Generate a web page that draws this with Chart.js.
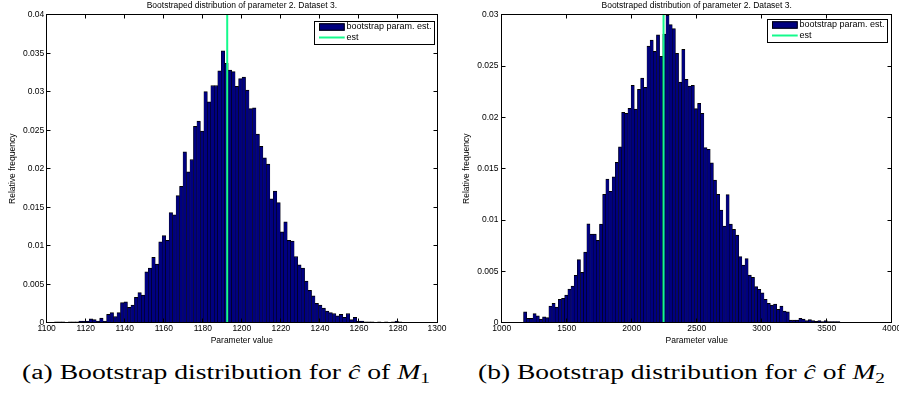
<!DOCTYPE html>
<html><head><meta charset="utf-8">
<script src="https://cdn.jsdelivr.net/npm/chart.js@4.4.1/dist/chart.umd.min.js"></script>
<style>
html,body{margin:0;padding:0;background:#fff;overflow:hidden;width:899px;height:399px;}
#wrap{position:relative;width:899px;height:399px;overflow:hidden;background:#fff;}
canvas{position:absolute;top:0;}
#cA{left:0;} #cB{left:450px;}
.cap{position:absolute;font-family:"Liberation Serif","DejaVu Serif",serif;font-size:20px;line-height:1;white-space:nowrap;color:#000;transform-origin:0 0;top:362px;}
.cap sub{font-size:14px;line-height:0;vertical-align:-4px;}
</style></head><body><div id="wrap">
<canvas id="cA" width="450" height="346"></canvas>
<canvas id="cB" width="460" height="346"></canvas>
<div class="cap" id="capA">(a)&nbsp;Bootstrap distribution for <i>ĉ</i> of <i>M</i><sub>1</sub></div>
<div class="cap" id="capB">(b)&nbsp;Bootstrap distribution for <i>ĉ</i> of <i>M</i><sub>2</sub></div>
</div>
<script>
// ---------- shared text ----------
const titleText = 'Bootstraped distribution of parameter 2. Dataset 3.';
const xTitle = 'Parameter value';
const yTitle = 'Relative frequency';
const legendLabels = ['bootstrap param. est.', 'est'];

// ---------- chart (a) ----------
const binStartA = 1104;
const binWidthA = 1.78;
const freqA = [0.0001,0.0001,0.0001,0,0.0001,0.0001,0.0001,
 0.0002,0.0002,0.0002,0.0005,0.0004,0.0002,0.0006,0.0002,0.0011,0.0013,0.0008,0.0013,
 0.0026,0.0027,0.0020,0.0023,0.0033,0.0039,0.0036,0.0066,0.0071,0.0085,0.0076,
 0.0105,0.0113,0.0107,0.0143,0.0140,0.0165,
 0.0177,0.0222,0.0196,0.0212,0.0255,0.0262,0.0249,0.0300,0.0287,0.0308,0.0308,
 0.0327,0.0353,0.0337,0.0328,0.0326,0.0307,0.0317,0.0319,0.0302,0.0278,0.0279,
 0.0245,0.0229,0.0214,0.0206,0.0161,0.0171,0.0156,
 0.0118,0.0131,0.0107,0.0106,0.0086,0.0075,0.0071,0.0054,0.0042,0.0035,
 0.0025,0.0023,0.0019,0.0015,0.0013,0.0012,0.0009,0.0011,0.0007,0.0012,0.0004,0.0007,
 0.0002,0.0002,0.0001,
 0.0001,0.0001,0,0.0001,0,0.0001,0,0.0001,0.0002,0.0001];
const estA = 1192.5;
const xTicksA = [1100,1120,1140,1160,1180,1200,1220,1240,1260,1280,1300];
const xTickLabelsA = ['1100','1120','1140','1160','1180','1200','1220','1240','1260','1280','1300'];
const yTicksA = [0,0.005,0.01,0.015,0.02,0.025,0.03,0.035,0.04];
const yTickLabelsA = ['0','0.005','0.01','0.015','0.02','0.025','0.03','0.035','0.04'];

// ---------- chart (b) ----------
const binStartB = 1168;
const binWidthB = 24.34;
const freqB = [0.00107,0.00043,0.00043,0.00088,0.00068,0.00036,0.00058,0.0005,
 0.00163,0.00189,0.00153,0.00228,0.00237,0.0027,0.00328,0.00357,
 0.00461,0.00614,0.0049,0.00689,0.00964,0.00864,0.00864,0.00802,0.0096,
 0.0125,0.014,0.0128,0.01422,0.01562,0.01714,0.0205,0.0204,
 0.02088,0.02312,0.0208,0.02273,0.02383,0.02293,
 0.02695,0.02753,0.02643,0.02805,0.02594,0.02812,
 0.02997,0.02903,0.02864,0.02624,0.02344,0.02663,
 0.02371,0.02305,0.02312,0.02085,0.02137,0.0204,
 0.01705,0.01689,0.01558,0.0139,0.0125,0.01098,
 0.00942,0.01247,0.0096,0.0091,
 0.00854,0.00643,0.00562,0.00624,0.00465,0.00442,0.00351,0.00325,
 0.00292,0.00228,0.00189,0.00172,0.00182,0.0013,0.00163,0.00114,0.00107,
 0.00026,0.00026,0.00026,0.00043,0.00036,0.0002,0.0003,0.0002,0.00013,0.0002,
 0.0001,0.0002,0.0001,0.0001,0.0001,0.0001];
const estB = 2245;
const xTicksB = [1000,1500,2000,2500,3000,3500,4000];
const xTickLabelsB = ['1000','1500','2000','2500','3000','3500','4000'];
const yTicksB = [0,0.005,0.01,0.015,0.02,0.025,0.03];
const yTickLabelsB = ['0','0.005','0.01','0.015','0.02','0.025','0.03'];

// ---------- styling ----------
const FONT = '"Liberation Sans", Arial, Helvetica, sans-serif';
const NAVY = '#000080';
const GREEN = 'rgb(20,250,140)';
const fnt = {family: FONT, size: 8.5, weight: 'normal'};

const framePlugin = {
  id: 'frame',
  afterDraw(chart, args, o) {
    const {ctx, chartArea: ca, scales: {x, y}} = chart;
    const L = Math.floor(ca.left) + 0.5, R = Math.floor(ca.right) + 0.5;
    const T = Math.floor(ca.top) + 0.5, B = Math.floor(ca.bottom) + 0.5;
    ctx.save();
    ctx.strokeStyle = '#000'; ctx.lineWidth = 1;
    ctx.strokeRect(L, T, R - L, B - T);
    ctx.beginPath();
    const tl = 4;
    x.ticks.forEach(t => {
      const px = Math.floor(x.getPixelForValue(t.value)) + 0.5;
      ctx.moveTo(px, B); ctx.lineTo(px, B - tl);
      ctx.moveTo(px, T); ctx.lineTo(px, T + tl);
    });
    y.ticks.forEach(t => {
      const py = Math.floor(y.getPixelForValue(t.value)) + 0.5;
      ctx.moveTo(L, py); ctx.lineTo(L + tl, py);
      ctx.moveTo(R, py); ctx.lineTo(R - tl, py);
    });
    ctx.stroke();
    ctx.restore();
  }
};

const legendPlugin = {
  id: 'boxLegend',
  afterDraw(chart, args, o) {
    const {ctx, chartArea: ca} = chart;
    const ds = chart.data.datasets;
    ctx.save();
    ctx.font = o.size + 'px ' + FONT;
    const tw = Math.max(...ds.map(d => ctx.measureText(d.label).width));
    const padL = 5, patchW = 25.7, gap = 1.8, padR = 2.5;
    const w = Math.round(padL + patchW + gap + tw + padR), h = 23;
    const bx = Math.round(ca.right - o.offRight - w), by = Math.round(ca.top + o.offTop);
    ctx.fillStyle = '#fff'; ctx.fillRect(bx, by, w, h);
    ctx.strokeStyle = '#000'; ctx.lineWidth = 1;
    ctx.strokeRect(bx + 0.5, by + 0.5, w, h);
    const r1 = by + 6, r2 = by + 16.5;
    ctx.fillStyle = ds[0].backgroundColor;
    ctx.fillRect(bx + padL, r1 - 3.7, patchW, 7.4);
    ctx.strokeRect(bx + padL + 0.5, r1 - 3.7 + 0.5, patchW - 1, 6.4);
    ctx.strokeStyle = ds[1].borderColor; ctx.lineWidth = 2;
    ctx.beginPath(); ctx.moveTo(bx + padL, r2); ctx.lineTo(bx + padL + patchW, r2); ctx.stroke();
    ctx.fillStyle = '#000'; ctx.textBaseline = 'middle'; ctx.textAlign = 'left';
    ctx.fillText(ds[0].label, bx + padL + patchW + gap, r1);
    ctx.fillText(ds[1].label, bx + padL + patchW + gap, r2);
    ctx.restore();
  }
};

function makeChart(id, p) {
  const bars = p.freq.map((v, i) => ({x: p.binStart + p.binWidth * (i + 0.5), y: v}));
  const yMax = p.yTicks[p.yTicks.length - 1];
  return new Chart(document.getElementById(id), {
    type: 'bar',
    data: {datasets: [
      {type: 'bar', label: legendLabels[0], data: bars, backgroundColor: NAVY, borderColor: '#000',
       borderWidth: {top: 1, left: 0.5, right: 0.5, bottom: 0}, barPercentage: 1, categoryPercentage: 1, order: 1},
      {type: 'line', label: legendLabels[1], data: [{x: p.est, y: 0}, {x: p.est, y: yMax}],
       borderColor: GREEN, borderWidth: 2, pointRadius: 0, fill: false, order: 0}
    ]},
    options: {
      responsive: false, animation: false, devicePixelRatio: 1,
      layout: {padding: {left: 0, right: p.padRight, top: 0, bottom: 0}},
      plugins: {
        legend: {display: false}, tooltip: {enabled: false},
        title: {display: true, text: titleText, fullSize: false, font: fnt, color: '#000',
                padding: {top: 0.4, bottom: 4.1}},
        boxLegend: {size: 9, offRight: p.legOffRight, offTop: p.legOffTop}
      },
      scales: {
        x: {type: 'linear', min: p.xTicks[0], max: p.xTicks[p.xTicks.length - 1], offset: false,
            grid: {display: false, drawTicks: false, tickLength: 0}, border: {display: false},
            afterBuildTicks: s => { s.ticks = p.xTicks.map(v => ({value: v})); },
            ticks: {autoSkip: false, maxRotation: 0, padding: 1.2, font: fnt, color: '#000',
                    callback: (v, i) => p.xTickLabels[i]},
            title: {display: true, text: xTitle, font: fnt, color: '#000', padding: {top: 0, bottom: 0.4}},
            afterFit: s => { s.height = 23.3; }},
        y: {type: 'linear', min: 0, max: yMax,
            grid: {display: false, drawTicks: false, tickLength: 0}, border: {display: false},
            afterBuildTicks: s => { s.ticks = p.yTicks.map(v => ({value: v})); },
            ticks: {autoSkip: false, padding: p.yTickPad, font: fnt, color: '#000',
                    callback: (v, i) => p.yTickLabels[i]},
            title: {display: true, text: yTitle, font: fnt, color: '#000', padding: {top: p.yTitlePad, bottom: 0}},
            afterFit: s => { s.width = p.yAxisWidth; }}
      }
    },
    plugins: [framePlugin, legendPlugin]
  });
}

makeChart('cA', {freq: freqA, binStart: binStartA, binWidth: binWidthA, est: estA,
  xTicks: xTicksA, xTickLabels: xTickLabelsA, yTicks: yTicksA, yTickLabels: yTickLabelsA,
  padRight: 13, yAxisWidth: 46.7, yTickPad: 2.4, yTitlePad: 7.9, legOffRight: 3, legOffTop: 6});
makeChart('cB', {freq: freqB, binStart: binStartB, binWidth: binWidthB, est: estB,
  xTicks: xTicksB, xTickLabels: xTickLabelsB, yTicks: yTicksB, yTickLabels: yTickLabelsB,
  padRight: 18.3, yAxisWidth: 51.7, yTickPad: 3.2, yTitlePad: 11.4, legOffRight: 4.7, legOffTop: 4.5});

function fitCap(id, center, width) {
  const el = document.getElementById(id);
  const w = el.getBoundingClientRect().width;
  const s = width / w;
  el.style.transform = 'scaleX(' + s + ')';
  el.style.left = (center - width / 2) + 'px';
}
fitCap('capA', 226, 408);
fitCap('capB', 681.7, 407);
</script>
</body></html>
